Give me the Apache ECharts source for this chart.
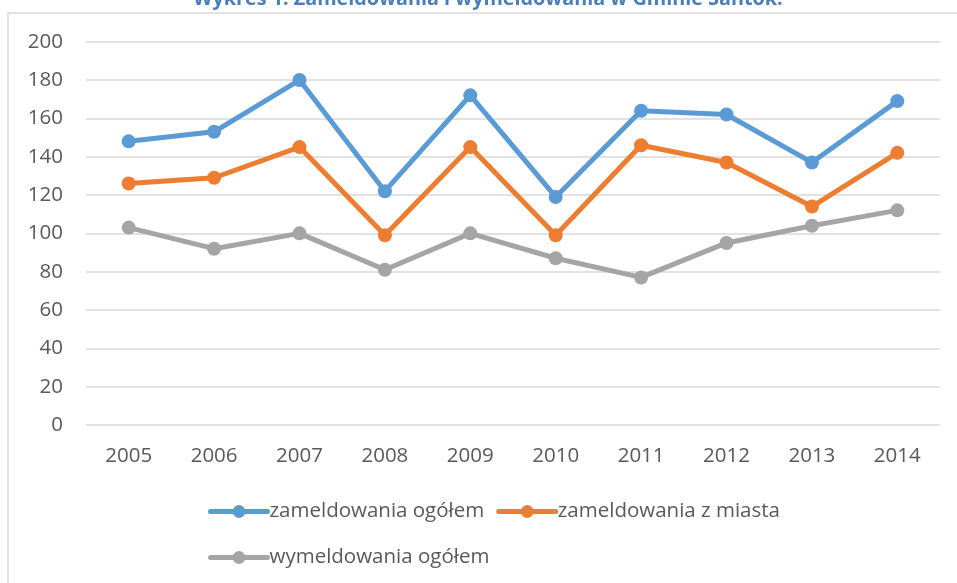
<!DOCTYPE html>
<html><head><meta charset="utf-8">
<script src="https://cdn.jsdelivr.net/npm/echarts@6/dist/echarts.min.js"></script>
<style>html,body{margin:0;padding:0;background:#fff}#c{width:957px;height:583px}</style>
</head><body><div id="c"></div>
<script>
const titleText = "Wykres 1. Zameldowania i wymeldowania w Gminie Santok.";
const years = ["2005","2006","2007","2008","2009","2010","2011","2012","2013","2014"];
const seriesNames = ["zameldowania ogółem","zameldowania z miasta","wymeldowania ogółem"];
const zameldowaniaOgolem = [148,153,180,122,172,119,164,162,137,169];
const zameldowaniaZMiasta = [126,129,145,99,145,99,146,137,114,142];
const wymeldowaniaOgolem = [103,92,100,81,100,87,77,95,104,112];
const colors = ["#5b9bd5","#ed7d31","#a5a5a5"];
const font = "'Open Sans', 'Noto Sans', sans-serif";

const chart = echarts.init(document.getElementById('c'), null, {renderer:'canvas'});
function mk(name, data, color){
  return {name, type:'line', data, symbol:'circle', symbolSize:14,
    lineStyle:{color, width:5}, itemStyle:{color}, z:3};
}
const legendCommon = {itemWidth:57, itemHeight:16, itemGap:12,
  lineStyle:{width:5, cap:'round'},
  textStyle:{fontFamily:font, fontSize:20.5, color:'#595959', padding:[0,0,0,-3]}};
chart.setOption({
  animation:false,
  graphic:[
    {type:'rect', shape:{x:8,y:13,width:960,height:600}, style:{fill:'none', stroke:'#d9d9d9', lineWidth:1.5}, z:-1},
    {type:'text', x:488, y:9, style:{text:titleText, fill:'#4a7ebb', font:"bold 19.8px "+font, textAlign:'center', textVerticalAlign:'bottom'}}
  ],
  grid:{left:86, right:17, top:41.7, bottom:158, containLabel:false},
  xAxis:{type:'category', data:years, boundaryGap:true,
    axisLine:{show:false}, axisTick:{show:false},
    axisLabel:{fontFamily:font, fontSize:20.5, color:'#595959', margin:21}},
  yAxis:{type:'value', min:0, max:200, interval:20,
    axisLine:{show:false}, axisTick:{show:false},
    axisLabel:{fontFamily:font, fontSize:20.5, color:'#595959', margin:23},
    splitLine:{lineStyle:{color:'#d9d9d9', width:1.5}}},
  legend:[
    Object.assign({}, legendCommon, {data:[seriesNames[0],seriesNames[1]], left:203, top:496}),
    Object.assign({}, legendCommon, {data:[seriesNames[2]], left:203, top:542})
  ],
  series:[
    mk(seriesNames[0], zameldowaniaOgolem, colors[0]),
    mk(seriesNames[1], zameldowaniaZMiasta, colors[1]),
    mk(seriesNames[2], wymeldowaniaOgolem, colors[2])
  ]
});
</script></body></html>
